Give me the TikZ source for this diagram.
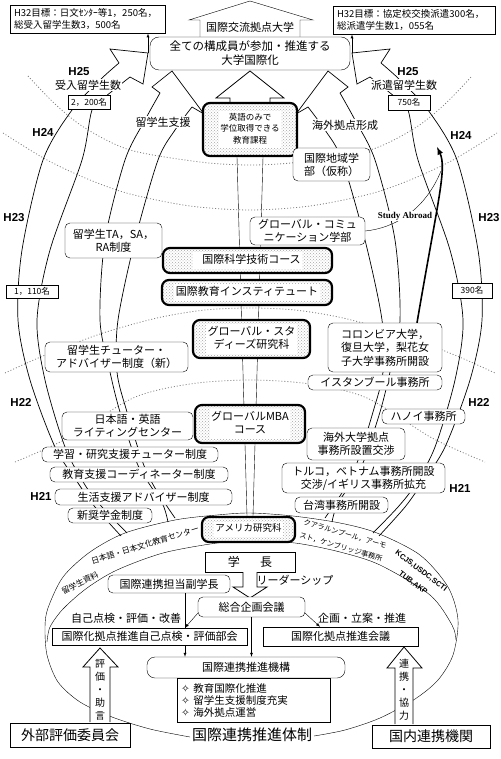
\documentclass[tikz,border=0pt]{standalone}
\usepackage{fontspec}
\setmainfont{Noto Sans CJK JP}
\newfontfamily\yearfont{Liberation Sans}
\newfontfamily\romanfont{Liberation Serif}
\newfontfamily\symfont{DejaVu Sans}
\usetikzlibrary{patterns}
\pgfdeclarelayer{bg}
\pgfsetlayers{bg,main}
\setlength\fboxsep{1.5pt}
\newcommand\fsz[2]{\fontsize{#1}{#2}\selectfont}
\newcommand\wb[1]{\colorbox{white}{\begin{tabular}{@{}c@{}}#1\end{tabular}}}

\tikzset{
  sz/.style 2 args={minimum width=#1pt, minimum height=#2pt},
  box/.style={draw, fill=white, inner sep=0pt, align=center, font=\fsz{11}{13}},
  rbox/.style={box, rounded corners=5pt},
  course/.style={draw, line width=2.2pt, rounded corners=7pt, preaction={fill=white},
    pattern=crosshatch dots, pattern color=gray!70, inner sep=0pt, align=center, font=\fsz{11}{13}},
  yr/.style={font=\yearfont\bfseries\fsz{11.5}{12}, inner sep=0pt},
  lbl/.style={fill=white, inner sep=1pt, font=\fsz{11}{12}},
  band/.style={inner sep=0pt, font=\fsz{7.2}{8}},
  lat/.style={gray, line width=0.8pt, dash pattern=on 1pt off 2pt},
  meridian/.style={line width=0.7pt},
  blockarrow/.style={draw, fill=white, line width=0.8pt},
}

% left pair of curved arrows (mirrored for the right side)
\newcommand\meridians{%
  % outer arrow (students)
  \draw[meridian] plot[smooth] coordinates {(121,536) (95,507) (78,483) (55,447) (30,380) (18,320) (22,250) (43,160) (72,110) (100,80) (119,63)}
    -- (110,49) -- (148,53) -- (143,84) -- (130,77)
    -- plot[smooth] coordinates {(130,77) (105,97) (92,110) (82,160) (50,250) (37,320) (45,380) (65,447) (85,485) (102,507) (127,533)};
  % inner arrow (support)
  \draw[meridian] plot[smooth] coordinates {(168,522) (163,505) (148,482) (137,463) (120,412) (110,372) (100,320) (105,240) (125,160) (145,120) (160,93)}
    -- (152,87) -- (172,71) -- (204,114) -- (192,107)
    -- plot[smooth] coordinates {(192,107) (175,130) (158,160) (135,240) (118,320) (117,372) (127,412) (143,463) (155,488) (175,518)};
}

\begin{document}
\begin{tikzpicture}[x=1pt, y=-1pt, line width=0.7pt, >=latex]
\begin{pgfonlayer}{bg}
\fill[white] (0,0) rectangle (500,759);
\end{pgfonlayer}
\useasboundingbox (0,0) rectangle (500,759);

% year boundaries
\draw[lat] plot[smooth] coordinates {(28,76) (55,104) (85,128) (130,150) (200,162) (250,165) (300,162) (370,150) (415,128) (445,104) (472,76)};
\draw[lat] plot[smooth] coordinates {(3,133) (47,160) (90,180) (130,194) (190,206) (250,210) (310,206) (370,194) (410,180) (453,160) (497,133)};
\draw[lat] plot[smooth] coordinates {(5,373) (43,356) (100,334) (157,318) (205,310) (250,308) (295,310) (343,318) (400,334) (457,356) (495,373)};
\draw[lat] plot[smooth] coordinates {(15,462) (68,438) (133,398) (190,384) (250,380) (310,384) (367,398) (432,438) (485,462)};

% curved arrows
\meridians
\begin{scope}[shift={(500,0)}, xscale=-1]
  \meridians
\end{scope}

% central stem and roof
\draw[blockarrow] (230,104) -- (230,98) -- (216,98) -- (250,71) -- (284,98) -- (270,98) -- (270,104);
\draw[fill=white] (200,38) -- (200,20) -- (189,20) -- (250,1) -- (313,20) -- (300,20) -- (300,38);

% outer ring and band
\draw plot[smooth] coordinates {(190,737) (150,729) (112,717) (80,702) (58,682) (47,655) (45,627) (48,608) (63,577) (90,552) (125,533) (175,520) (217,515) (250,513) (293,516) (340,523) (377,533) (420,555) (448,587) (458,620) (453,655) (438,680) (415,699) (380,718) (345,730) (314,736)};
\draw plot[smooth] coordinates {(47,642) (50,627) (63,609) (87,588) (117,570) (163,553) (217,543) (250,541) (295,543) (340,552) (380,565) (430,595) (452,625) (456,640)};

\node[band, rotate=17, font=\fsz{8}{9}] (jpc) at (145,545) {日本語・日本文化教育センター};
\node[band, rotate=27, font=\fsz{8}{9}] (stdoc) at (80,583) {留学生資料};
\node[band, rotate=-16] (kl) at (345,534) {クアラルンプール，アーモ};
\node[band, rotate=-16] (camb) at (341,547) {スト，ケンブリッジ事務所};
\node[band, rotate=-37, font=\yearfont\bfseries\fsz{7.5}{9}] (kcjs) at (421,571) {KCJS,USDC,SCTI};
\node[band, rotate=-37, font=\yearfont\bfseries\fsz{7.5}{9}] (tub) at (413,583) {TUB,AKP};

% top
\node[box, text width=147pt, inner sep=4pt, minimum height=28pt, align=left, font=\fsz{9.5}{11.5}] (goalL) at (87.5,19) {H32目標：日文ｾﾝﾀｰ等1，250名，\\総受入留学生数3，500名};
\node[box, text width=154pt, inner sep=4pt, minimum height=26pt, align=left, font=\fsz{9.5}{11.5}] (goalR) at (414,20) {H32目標：協定校交換派遣300名，\\総派遣学生数1，055名};
\node[font=\fsz{11}{12}, inner sep=0pt] (hub) at (250,27) {国際交流拠点大学};
\node[rbox, sz={200}{33}, rounded corners=9pt, font=\fsz{11.5}{14}] (goal) at (250,53.5) {全ての構成員が参加・推進する\\大学国際化};

\coordinate (tipA) at (148,53);
\coordinate (tipC) at (352,53);
\draw[->] (tipA) -- (tipA |- goalL.south);
\draw[->] (tipC) -- (tipC |- goalR.south);

% years and counts
\node[yr] (h25l) at (79,72) {H25};
\node[yr] (h25r) at (408,72) {H25};
\node[lbl] (inbound) at (88,85) {受入留学生数};
\node[lbl] (outbound) at (404,85) {派遣留学生数};
\node[box, sz={42}{14}, font=\fsz{8.5}{10}] (n2200) at (89,102) {2，200名};
\node[box, sz={42}{15}, font=\fsz{8.5}{10}] (n750) at (409,102.5) {750名};
\node[yr] (h24l) at (43,132) {H24};
\node[yr] (h24r) at (461,135) {H24};
\node[yr] (h23l) at (14,218) {H23};
\node[yr] (h23r) at (489,218) {H23};
\node[box, sz={52}{13}, font=\fsz{8.5}{10}] (n1110) at (32,291.5) {1，110名};
\node[box, sz={40}{15}, font=\fsz{8.5}{10}] (n390) at (472,290.5) {390名};
\node[yr] (h22l) at (21,402) {H22};
\node[yr] (h22r) at (479,402) {H22};
\node[yr] (h21l) at (41,496) {H21};
\node[yr] (h21r) at (460,488) {H21};

% programmes (centre)
\node[lbl] (support) at (163,122) {留学生支援};
\node[lbl] (bases) at (345,125) {海外拠点形成};
\node[course, sz={94}{53}, font=\fsz{8.5}{11.3}] (eng) at (250,129.5) {\wb{英語のみで\\学位取得できる\\教育課程}};
\node[course, sz={169}{25}] (ist) at (247.5,260.5) {\wb{\hspace{8pt}国際科学技術コース\hspace{8pt}}};
\node[course, sz={170}{25}] (iei) at (247,292.5) {\wb{国際教育インスティテュート}};
\node[course, sz={117}{38}] (gs) at (251.5,339) {\wb{グローバル・スタ\\ディーズ研究科}};
\node[course, sz={110}{38}] (mba) at (250,424) {\wb{グローバルMBA\\コース}};
\node[course, sz={93}{25}, font=\fsz{9.5}{11}] (amer) at (248.5,529.5) {\wb{アメリカ研究科}};

% student support (left)
\node[rbox, sz={97}{35}] (ta) at (113.5,240.5) {留学生TA，SA，\\RA制度};
\node[rbox, sz={143}{30}] (tutor) at (116.5,357) {留学生チューター・\\アドバイザー制度（新）};
\node[rbox, sz={131}{28}] (write) at (127.5,426) {日本語・英語\\ライティングセンター};
\node[rbox, sz={176}{15}] (study) at (130,454.5) {学習・研究支援チューター制度};
\node[rbox, sz={178}{15}] (coord) at (139,474.5) {教育支援コーディネーター制度};
\node[rbox, sz={177}{16}] (life) at (143.5,497) {生活支援アドバイザー制度};
\node[rbox, sz={84}{15}] (schol) at (110,515.5) {新奨学金制度};

% overseas bases (right)
\node[rbox, sz={77}{33}] (region) at (331.5,164.5) {国際地域学\\部（仮称）};
\node[rbox, sz={115}{28}] (gcomm) at (307.5,231) {グローバル・コミュ\\ニケーション学部};
\node[rbox, sz={114}{49}, font=\fsz{11}{13.5}] (colum) at (385,347.5) {コロンビア大学，\\復旦大学，梨花女\\子大学事務所開設};
\node[rbox, sz={134}{15}] (istan) at (375,382.5) {イスタンブール事務所};
\node[rbox, sz={83}{15}] (hanoi) at (423.5,416.5) {ハノイ事務所};
\node[rbox, sz={98}{32}] (nego) at (356,444) {海外大学拠点\\事務所設置交渉};
\node[rbox, sz={163}{30}] (turk) at (363.5,478) {トルコ，ベトナム事務所開設\\交渉/イギリス事務所拡充};
\node[rbox, sz={93}{16}] (taiwan) at (341.5,505) {台湾事務所開設};

% study abroad
\coordinate (abroad) at (437,147);
\coordinate (join) at (441,171);
\draw (gcomm.east) .. controls (395,228) and (425,210) .. (join);
\node[font=\romanfont\bfseries\fsz{9}{10}, fill=white, inner sep=1pt] (sa) at (405,216) {Study Abroad};
\draw[line width=1.6pt, ->] ([xshift=32pt]colum.north) .. controls (438,200) and (447,168) .. (abroad);

% central lines
\begin{pgfonlayer}{bg}
\draw ([xshift=-13pt]eng.south) -- ([xshift=-1.5pt]amer.north);
\draw ([xshift=13pt]eng.south) -- ([xshift=4.5pt]amer.north);
\end{pgfonlayer}

% organisation
\node[box, sz={90}{20}, font=\fsz{12}{13}] (pres) at (250,562) {学\hspace{1.7em}長};
\node[rbox, sz={122}{18}] (vp) at (169,584) {国際連携担当副学長};
\node[lbl] (lead) at (295,580) {リーダーシップ};
\draw[blockarrow] (243,572) -- (243,587) -- (233,587) -- (250,598) -- (267,587) -- (257,587) -- (257,572);
\node[rbox, sz={107}{20}] (plan) at (251.5,607) {総合企画会議};
\node[lbl] (selflbl) at (126,618) {自己点検・評価・改善};
\node[lbl] (planlbl) at (362,618) {企画・立案・推進};
\node[box, sz={195}{17}] (selfc) at (149.5,636.5) {国際化拠点推進自己点検・評価部会};
\node[box, sz={155}{19}] (promo) at (340.5,636.5) {国際化拠点推進会議};
\node[rbox, sz={198}{21}, rounded corners=8pt] (org) at (246,667.5) {国際連携推進機構};
\node[box, text width=145pt, inner sep=4pt, minimum height=44pt, align=left, font=\fsz{10.5}{12}] (tasks) at (253.5,700)
  {{\symfont ✧}\ 教育国際化推進\\{\symfont ✧}\ 留学生支援制度充実\\{\symfont ✧}\ 海外拠点運営};
\node[font=\fsz{15}{16}, inner sep=1pt] (sys) at (252,735) {国際連携推進体制};
\node[box, sz={120}{24}, font=\fsz{14}{15}] (ext) at (70,735) {外部評価委員会};
\node[box, sz={118}{23}, font=\fsz{14}{15}] (dom) at (431,736.5) {国内連携機関};

\coordinate (cx) at (185,0);
\coordinate (cr) at (320,0);
\draw (vp.south -| cx) -- (selfc.north -| cx);
\draw[->] ([yshift=4pt]plan.south west) -- (selfc.north -| cx);
\draw[->] ([yshift=4pt]plan.south east) -- (promo.north -| cr);
\draw[->] (plan.south) -- (plan.south |- org.north);
\draw[->] (selfc.south -| cx) -- (org.north -| cx);

% advice and cooperation
\draw[blockarrow] (90,722) -- (90,667) -- (83,667) -- (100,648) -- (118,667) -- (110,667) -- (110,722);
\node[font=\fsz{10}{13}, align=center, inner sep=0pt] (advice) at (100,690) {評\\価\\・\\助\\言};
\draw[blockarrow] (395,724) -- (395,668) -- (387,668) -- (404,647) -- (422,668) -- (413,668) -- (413,724);
\node[font=\fsz{10}{13}, align=center, inner sep=0pt] (coop) at (404,690) {連\\携\\・\\協\\力};
\end{tikzpicture}
\end{document}
